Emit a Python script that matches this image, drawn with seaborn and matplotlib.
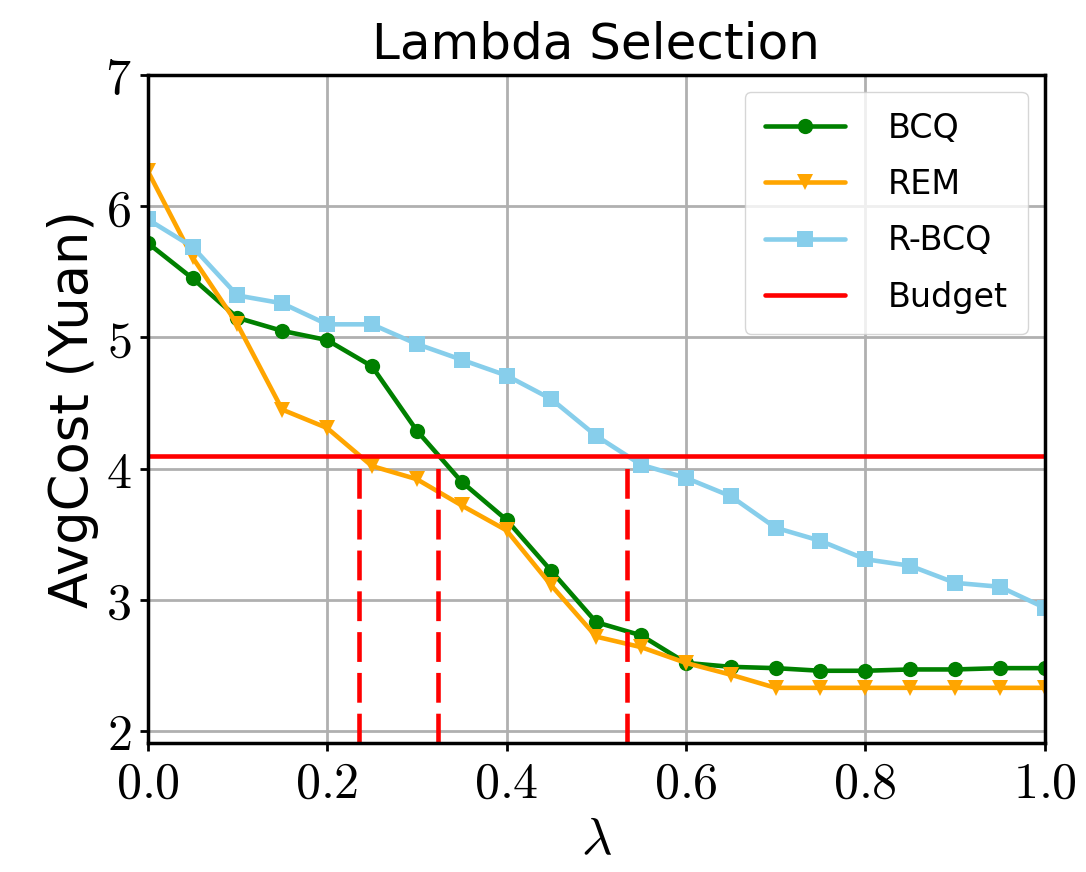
import matplotlib
matplotlib.use("Agg")
import matplotlib.pyplot as plt
from matplotlib.ticker import FuncFormatter
import pandas as pd
import seaborn as sns

lam = [0.0, 0.05, 0.1, 0.15, 0.2, 0.25, 0.3, 0.35, 0.4, 0.45, 0.5,
       0.55, 0.6, 0.65, 0.7, 0.75, 0.8, 0.85, 0.9, 0.95, 1.0]
bcq = [5.72, 5.45, 5.15, 5.05, 4.98, 4.78, 4.29, 3.90, 3.61, 3.22, 2.83,
       2.73, 2.52, 2.49, 2.48, 2.46, 2.46, 2.47, 2.47, 2.48, 2.48]
rem = [6.27, 5.61, 5.10, 4.45, 4.31, 4.02, 3.92, 3.72, 3.53, 3.11, 2.72,
       2.64, 2.52, 2.43, 2.33, 2.33, 2.33, 2.33, 2.33, 2.33, 2.33]
rbcq = [5.90, 5.69, 5.32, 5.26, 5.10, 5.10, 4.95, 4.83, 4.71, 4.53, 4.25,
        4.03, 3.93, 3.79, 3.55, 3.45, 3.31, 3.26, 3.13, 3.10, 2.94]
budget = 4.1
crossings = [0.236, 0.324, 0.534]

series = ["BCQ", "REM", "R-BCQ"]
colors = ["green", "orange", "skyblue"]
markers = ["o", "v", "s"]


def main():
    sns.set_style("whitegrid", {"axes.edgecolor": "black", "grid.color": "#b0b0b0",
                                "xtick.bottom": True, "ytick.left": True,
                                "text.color": "black", "axes.labelcolor": "black",
                                "xtick.color": "black", "ytick.color": "black"})
    plt.rcParams["font.family"] = ["DejaVu Sans"]
    plt.rcParams["mathtext.fontset"] = "cm"

    data = pd.DataFrame({"lam": lam * 3,
                         "cost": bcq + rem + rbcq,
                         "method": [s for s in series for _ in lam]})

    fig = plt.figure(figsize=(10.86, 8.72), dpi=100)
    ax = fig.add_axes([0.136, 0.148, 0.826, 0.766])

    for name, col, mk in zip(series, colors, markers):
        sns.lineplot(x="lam", y="cost", data=data[data.method == name], ax=ax,
                     color=col, marker=mk, markersize=11, markeredgewidth=0,
                     linewidth=3.3, label=name)

    ax.axhline(budget, color="red", linewidth=3.3, label="Budget")
    ax.vlines(crossings, 1.91, budget, colors="red", linestyles=(0, (6.5, 2.4)),
              linewidth=3.3)

    ax.set_xlim(0, 1)
    ax.set_ylim(1.91, 7)
    ax.set_xticks([0, 0.2, 0.4, 0.6, 0.8, 1.0])
    ax.set_yticks([2, 3, 4, 5, 6, 7])
    ax.xaxis.set_major_formatter(FuncFormatter(lambda v, p: f"${v:.1f}$"))
    ax.yaxis.set_major_formatter(FuncFormatter(lambda v, p: f"${v:.0f}$"))
    ax.tick_params(labelsize=36, length=6, width=2, colors="black", pad=6)
    ax.grid(True, linewidth=2, color="#b0b0b0")
    for sp in ax.spines.values():
        sp.set_linewidth(2.5)
        sp.set_color("black")

    ax.set_title("Lambda Selection", fontsize=36, pad=12, color="black")
    ax.set_xlabel(r"$\lambda$", fontsize=38)
    ax.set_ylabel("AvgCost (Yuan)", fontsize=38)

    leg = ax.legend(loc="upper right", fontsize=24, handlelength=2.4,
                    borderpad=0.6, labelspacing=0.7, handletextpad=1.3,
                    frameon=True, fancybox=True, borderaxespad=0.5)
    for t in leg.get_texts():
        t.set_color("black")

    fig.savefig("out.png", dpi=100)


main()
